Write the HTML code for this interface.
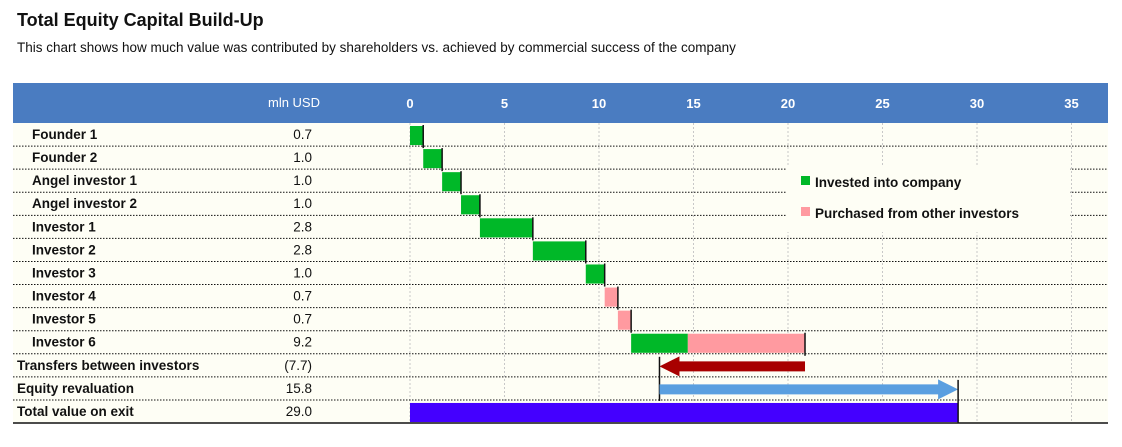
<!DOCTYPE html>
<html><head><meta charset="utf-8"><style>
body{margin:0;background:#fff;font-family:"Liberation Sans",sans-serif;}
svg text{font-family:"Liberation Sans",sans-serif;}
</style></head><body>
<svg id="c" width="1122" height="442" xmlns="http://www.w3.org/2000/svg">
<text x="17" y="26" font-size="18" font-weight="bold" fill="#111">Total Equity Capital Build-Up</text>
<text x="17" y="52" font-size="13.5" fill="#111">This chart shows how much value was contributed by shareholders vs. achieved by commercial success of the company</text>
<rect x="13" y="83" width="1095" height="40" fill="#4a7cc1"/>
<rect x="13" y="123" width="1095" height="300" fill="#fefef5"/>
<text x="320" y="107" font-size="13" fill="#fff" text-anchor="end">mln USD</text>
<g id="g"></g>
</svg>
<script>
const labels=["Founder 1","Founder 2","Angel investor 1","Angel investor 2","Investor 1","Investor 2","Investor 3","Investor 4","Investor 5","Investor 6","Transfers between investors","Equity revaluation","Total value on exit"];
const valueLabels=["0.7","1.0","1.0","1.0","2.8","2.8","1.0","0.7","0.7","9.2","(7.7)","15.8","29.0"];
const investedValues=[0.7,1.0,1.0,1.0,2.8,2.8,1.0,0,0,3.0];
const purchasedValues=[0,0,0,0,0,0,0,0.7,0.7,6.2];
const transfers=-7.7;
const revaluation=15.8;
const totalValue=29.0;
const ticks=[0,5,10,15,20,25,30,35];
const NS="http://www.w3.org/2000/svg";
const g=document.getElementById('g');
const x=v=>410+v*18.9;
const rowTop=i=>123+i*23.08;
const RH=23.08;
function el(t,a){const e=document.createElementNS(NS,t);for(const k in a)e.setAttribute(k,a[k]);g.appendChild(e);return e;}
ticks.forEach(t=>{
 const l=el('line',{x1:x(t),x2:x(t),y1:123,y2:423,stroke:'#c8c8c8','stroke-dasharray':'2,2'});
 
 
 const tx=el('text',{x:x(t),y:108,'font-size':13,'font-weight':'bold',fill:'#fff','text-anchor':'middle'});
 tx.textContent=t;
 
 
});
labels.forEach((lab,i)=>{
 const y=rowTop(i);
 if(i<labels.length-1){const s=el('line',{x1:13,x2:1108,y1:y+RH,y2:y+RH,stroke:'#111','stroke-dasharray':'1.5,1.5'});
 
 }
 const t=el('text',{x:i<10?32:17,y:y+16,'font-size':13.5,'font-weight':'bold',fill:'#111'});
 t.textContent=lab;
 
 
 const v=el('text',{x:312,y:y+16,'font-size':13.5,fill:'#111','text-anchor':'end'});
 v.textContent=valueLabels[i];
 
 
});
const bl=el('line',{x1:13,x2:1108,y1:423,y2:423,stroke:'#111','stroke-width':1.5});


let cum=0;
for(let i=0;i<investedValues.length;i++){
 const y=rowTop(i)+3,h=RH-4;
 const a=investedValues[i],b=purchasedValues[i];
 if(a>0){const r=el('rect',{x:x(cum),y:y,width:x(cum+a)-x(cum),height:h,fill:'#00b828'});
 
 }
 if(b>0){const r=el('rect',{x:x(cum+a),y:y,width:x(cum+a+b)-x(cum+a),height:h,fill:'#ff9aa0'});
 
 }
 cum+=a+b;
 const m=el('line',{x1:x(cum),x2:x(cum),y1:rowTop(i)+2,y2:rowTop(i)+RH+2,stroke:'#111','stroke-width':1.5});
 
 
}
// transfers arrow
{const i=10,y=rowTop(i)+RH/2+1,x0=x(cum),x1=x(cum+transfers);
 const p=el('polygon',{points:`${x0},${y-5} ${x1+20},${y-5} ${x1+20},${y-10} ${x1},${y} ${x1+20},${y+10} ${x1+20},${y+5} ${x0},${y+5}`,fill:'#a80000'});
 
 
 cum+=transfers;
 const m=el('line',{x1:x1,x2:x1,y1:rowTop(i)+3,y2:rowTop(i)+RH*2+1,stroke:'#111','stroke-width':1.5});
 
 }
{const i=11,y=rowTop(i)+RH/2+1,x0=x(cum),x1=x(cum+revaluation);
 const p=el('polygon',{points:`${x0},${y-5} ${x1-20},${y-5} ${x1-20},${y-10} ${x1},${y} ${x1-20},${y+10} ${x1-20},${y+5} ${x0},${y+5}`,fill:'#5a9fe0'});
 
 }
{const i=12;
 const r=el('rect',{x:x(0),y:rowTop(i)+3,width:x(totalValue)-x(0),height:RH-4,fill:'#4400ff'});
 
 
 const m=el('line',{x1:x(totalValue),x2:x(totalValue),y1:rowTop(11)+3,y2:423,stroke:'#111','stroke-width':1.5});
 
 }
// legend
const lb=el('rect',{x:786,y:166,width:284,height:66,fill:'#fefef5'});


[['#00b828','Invested into company',183],['#ff9aa0','Purchased from other investors',214]].forEach(([c,t,y])=>{
 const s=el('rect',{x:801,y:y-7,width:9,height:9,fill:c});
 
 
 const tx=el('text',{x:815,y:y+4,'font-size':13.5,'font-weight':'bold',fill:'#111'});
 tx.textContent=t;
 
 
});
</script>
</body></html>
